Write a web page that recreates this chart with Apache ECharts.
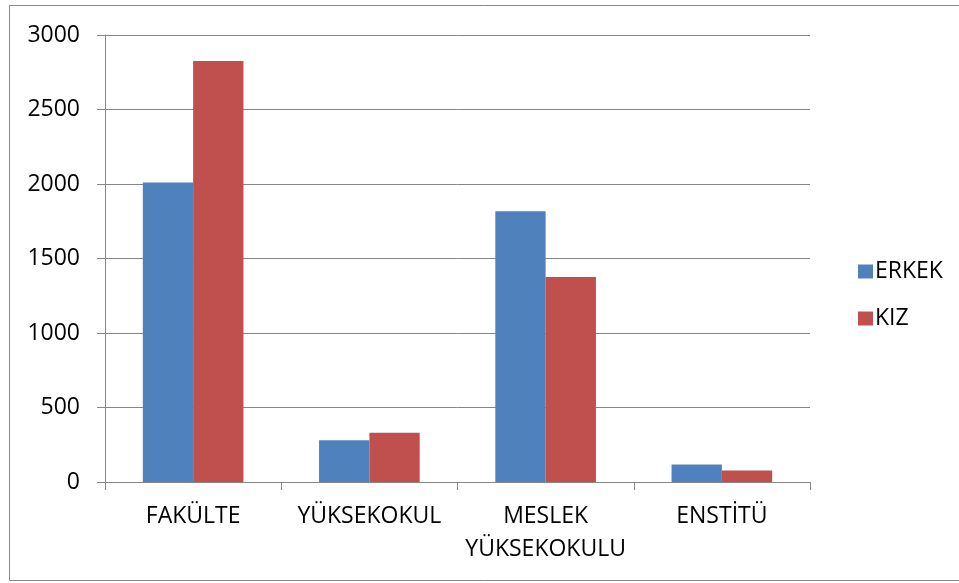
<!DOCTYPE html>
<html><head><meta charset="utf-8">
<script src="https://cdn.jsdelivr.net/npm/echarts@6/dist/echarts.min.js"></script>
<style>html,body{margin:0;padding:0;background:#fff}#c{width:959px;height:583px}</style>
</head><body><div id="c"></div>
<script>
const categories = ['FAKÜLTE', 'YÜKSEKOKUL', 'MESLEK\nYÜKSEKOKULU', 'ENSTİTÜ'];
const erkek = [2010, 280, 1817, 117];
const kiz = [2826, 331, 1376, 77];
const seriesNames = ['ERKEK', 'KIZ'];
const yTicks = [0, 500, 1000, 1500, 2000, 2500, 3000];

const font = '"Open Sans", sans-serif';
const chart = echarts.init(document.getElementById('c'), null, {renderer: 'canvas'});
chart.setOption({
  animation: false,
  backgroundColor: '#fff',
  textStyle: {fontFamily: font},
  graphic: [{
    type: 'rect', shape: {x: 9.5, y: 5.5, width: 960, height: 575},
    style: {fill: 'none', stroke: '#888', lineWidth: 1}, silent: true, z: -1
  }],
  grid: {left: 105, right: 149, top: 35, bottom: 101, containLabel: false},
  legend: {
    orient: 'vertical', left: 853, top: 255, itemWidth: 15, itemHeight: 14, itemGap: 24,
    icon: 'rect', data: seriesNames,
    textStyle: {fontFamily: font, fontSize: 23, color: '#000', padding: [0, 0, 0, -3]}
  },
  xAxis: {
    type: 'category', data: categories,
    axisLine: {lineStyle: {color: '#868686', width: 1}},
    axisTick: {show: true, alignWithLabel: false, length: 8, lineStyle: {color: '#868686'}},
    axisLabel: {fontFamily: font, fontSize: 23, color: '#000', margin: 18, lineHeight: 33, interval: 0}
  },
  yAxis: {
    type: 'value', min: yTicks[0], max: yTicks[yTicks.length - 1], interval: 500,
    axisLine: {show: true, lineStyle: {color: '#868686', width: 1}},
    axisTick: {show: true, length: 8, lineStyle: {color: '#868686'}},
    splitLine: {lineStyle: {color: '#868686', width: 1}},
    axisLabel: {fontFamily: font, fontSize: 23, color: '#000', margin: 25, formatter: v => String(v)}
  },
  series: [
    {name: seriesNames[0], type: 'bar', data: erkek, barGap: '0%', barCategoryGap: '42.9%',
     itemStyle: {color: '#4F81BD'}},
    {name: seriesNames[1], type: 'bar', data: kiz, barGap: '0%', barCategoryGap: '42.9%',
     itemStyle: {color: '#C0504D'}}
  ]
});
</script></body></html>
